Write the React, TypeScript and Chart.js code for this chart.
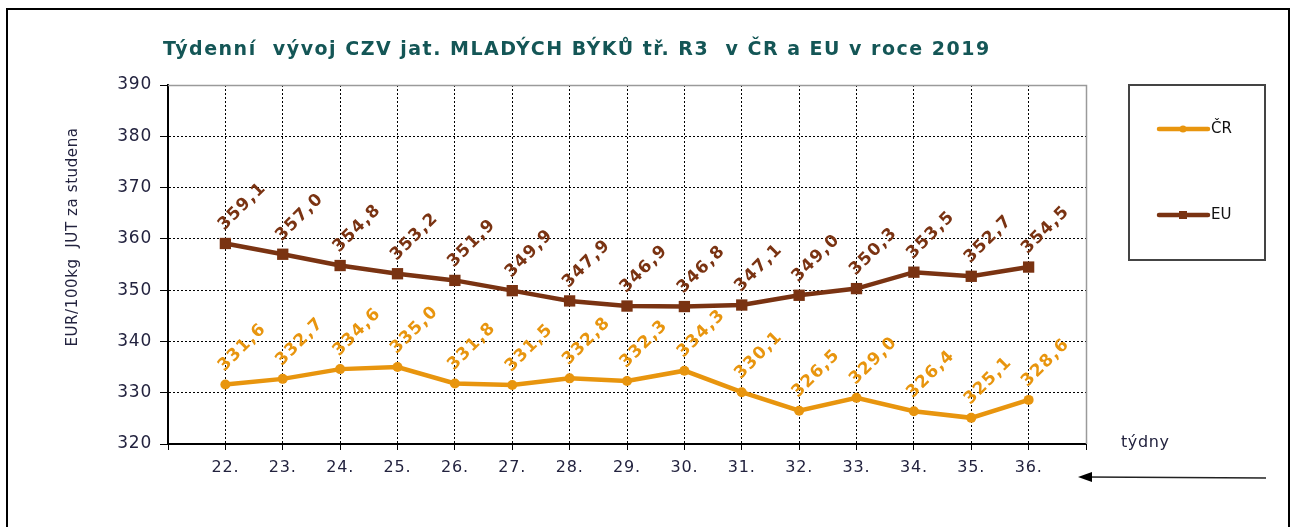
import React, { useEffect, useRef } from "react";
import { Chart, registerables } from "chart.js";

Chart.register(...registerables);

const weeks = [22, 23, 24, 25, 26, 27, 28, 29, 30, 31, 32, 33, 34, 35, 36];
const crValues = [331.6, 332.7, 334.6, 335.0, 331.8, 331.5, 332.8, 332.3, 334.3, 330.1, 326.5, 329.0, 326.4, 325.1, 328.6];
const euValues = [359.1, 357.0, 354.8, 353.2, 351.9, 349.9, 347.9, 346.9, 346.8, 347.1, 349.0, 350.3, 353.5, 352.7, 354.5];
const yMin = 320;
const yMax = 390;
const yStep = 10;
const titleText = "Týdenní  vývoj CZV jat. MLADÝCH BÝKŮ tř. R3  v ČR a EU v roce 2019";
const yAxisTitle = "EUR/100kg  JUT za studena";
const xAxisTitle = "týdny";
const seriesNames = ["ČR", "EU"];

const CR_COLOR = "#E8950E";
const EU_COLOR = "#7A3312";
const TEXT_COLOR = "#23233f";
const FONT = "'DejaVu Sans', Verdana, sans-serif";

const fmt = (v: number) => v.toFixed(1).replace(".", ",");

const decorPlugin = {
  id: "decor",
  beforeDraw(chart: any) {
    (chart.ctx as any).letterSpacing = "0.8px";
  },
  afterDatasetsDraw(chart: any) {
    const ctx = chart.ctx;
    ctx.save();
    (ctx as any).letterSpacing = "1.2px";
    ctx.font = `bold 17px ${FONT}`;
    ctx.textAlign = "center";
    ctx.textBaseline = "middle";
    chart.data.datasets.forEach((ds: any, di: number) => {
      const meta = chart.getDatasetMeta(di);
      meta.data.forEach((pt: any, i: number) => {
        const v = ds.data[i];
        if (v === null || v === undefined) return;
        ctx.save();
        ctx.translate(pt.x + 17, pt.y - 37);
        ctx.rotate(-Math.PI / 4);
        ctx.fillStyle = ds.borderColor;
        ctx.fillText(fmt(v), 0, 0);
        ctx.restore();
      });
    });
    ctx.restore();
  },
  afterDraw(chart: any) {
    const ctx = chart.ctx;
    const { left, right, top, bottom } = chart.chartArea;
    ctx.save();
    (ctx as any).letterSpacing = "0px";
    // plot frame top/right (gray)
    ctx.strokeStyle = "#9a9a9a";
    ctx.lineWidth = 1.5;
    ctx.beginPath();
    ctx.moveTo(left, Math.round(top) + 0.5);
    ctx.lineTo(Math.round(right) + 0.5, Math.round(top) + 0.5);
    ctx.lineTo(Math.round(right) + 0.5, bottom);
    ctx.stroke();

    // outer border
    ctx.strokeStyle = "#000";
    ctx.lineWidth = 2;
    ctx.strokeRect(7, 9, 1282, 540);

    // title
    (ctx as any).letterSpacing = "1.5px";
    ctx.fillStyle = "#145656";
    ctx.font = `bold 19px ${FONT}`;
    ctx.textAlign = "left";
    ctx.textBaseline = "middle";
    ctx.fillText(titleText, 163, 50);

    // y axis title
    (ctx as any).letterSpacing = "0.6px";
    ctx.save();
    ctx.translate(73, 237);
    ctx.rotate(-Math.PI / 2);
    ctx.fillStyle = TEXT_COLOR;
    ctx.font = `15px ${FONT}`;
    ctx.textAlign = "center";
    ctx.fillText(yAxisTitle, 0, 0);
    ctx.restore();

    // x axis title
    ctx.fillStyle = TEXT_COLOR;
    ctx.font = `16px ${FONT}`;
    ctx.textAlign = "left";
    ctx.fillText(xAxisTitle, 1121, 443);

    // arrow
    (ctx as any).letterSpacing = "0px";
    ctx.strokeStyle = "#222";
    ctx.lineWidth = 1.5;
    ctx.beginPath();
    ctx.moveTo(1266, 478);
    ctx.lineTo(1086, 477);
    ctx.stroke();
    ctx.fillStyle = "#000";
    ctx.beginPath();
    ctx.moveTo(1078, 477);
    ctx.lineTo(1092, 472);
    ctx.lineTo(1092, 482);
    ctx.closePath();
    ctx.fill();

    // legend box
    ctx.strokeStyle = "#444";
    ctx.lineWidth = 2;
    ctx.strokeRect(1129, 85, 136, 175);
    const items = [
      { name: seriesNames[0], color: CR_COLOR, y: 129, style: "circle" },
      { name: seriesNames[1], color: EU_COLOR, y: 215, style: "rect" },
    ];
    items.forEach((it) => {
      ctx.strokeStyle = it.color;
      ctx.lineWidth = 4.5;
      ctx.lineCap = "round";
      ctx.beginPath();
      ctx.moveTo(1159, it.y);
      ctx.lineTo(1208, it.y);
      ctx.stroke();
      ctx.fillStyle = it.color;
      if (it.style === "circle") {
        ctx.beginPath();
        ctx.arc(1183, it.y, 3.5, 0, Math.PI * 2);
        ctx.fill();
      } else {
        ctx.fillRect(1179, it.y - 4, 8, 8);
      }
      ctx.fillStyle = "#111";
      ctx.font = `15px ${FONT}`;
      ctx.textAlign = "left";
      ctx.textBaseline = "middle";
      ctx.fillText(it.name, 1211, it.y);
    });
    ctx.restore();
  },
};

export default function App() {
  const ref = useRef<HTMLCanvasElement | null>(null);

  useEffect(() => {
    document.body.style.margin = "0";
    const canvas = ref.current;
    if (!canvas) return;
    const labels = ["", ...weeks.map((w) => `${w}.`), ""];
    const chart = new Chart(canvas, {
      type: "line",
      data: {
        labels,
        datasets: [
          {
            label: seriesNames[0],
            data: [null, ...crValues, null],
            borderColor: CR_COLOR,
            backgroundColor: CR_COLOR,
            borderWidth: 4.5,
            pointStyle: "circle",
            pointRadius: 5,
            pointBorderWidth: 0,
            tension: 0,
          },
          {
            label: seriesNames[1],
            data: [null, ...euValues, null],
            borderColor: EU_COLOR,
            backgroundColor: EU_COLOR,
            borderWidth: 4.5,
            pointStyle: "rect",
            pointRadius: 8,
            pointBorderWidth: 0,
            tension: 0,
          },
        ],
      },
      options: {
        animation: false,
        responsive: false,
        maintainAspectRatio: false,
        layout: { padding: { left: 0, right: 210, top: 85, bottom: 0 } },
        plugins: {
          legend: { display: false },
          title: { display: false },
          tooltip: { enabled: false },
        },
        scales: {
          x: {
            offset: false,
            afterFit: (s: any) => {
              s.height = 83;
            },
            grid: {
              color: (c: any) => (c.index === 0 || c.index === weeks.length + 1 ? "rgba(0,0,0,0)" : "#000"),
              lineWidth: 1,
              drawTicks: true,
              tickLength: 6,
              tickColor: "#000",
            },
            border: { display: true, color: "#000", width: 2, dash: [2, 2] },
            ticks: {
              autoSkip: false,
              maxRotation: 0,
              padding: 8,
              color: TEXT_COLOR,
              font: { family: FONT, size: 16 },
            },
          },
          y: {
            min: yMin,
            max: yMax,
            afterFit: (s: any) => {
              s.width = 168;
            },
            grid: {
              color: "#000",
              lineWidth: 1,
              drawTicks: true,
              tickLength: 8,
              tickColor: "#000",
            },
            border: { display: true, color: "#000", width: 2, dash: [2, 2] },
            ticks: {
              stepSize: yStep,
              padding: 8,
              color: TEXT_COLOR,
              font: { family: FONT, size: 17 },
            },
          },
        },
      },
      plugins: [decorPlugin],
    });
    return () => chart.destroy();
  }, []);

  return (
    <div style={{ width: 1296, height: 527, position: "relative", background: "#fff" }}>
      <canvas ref={ref} width={1296} height={527} style={{ display: "block" }} />
    </div>
  );
}
